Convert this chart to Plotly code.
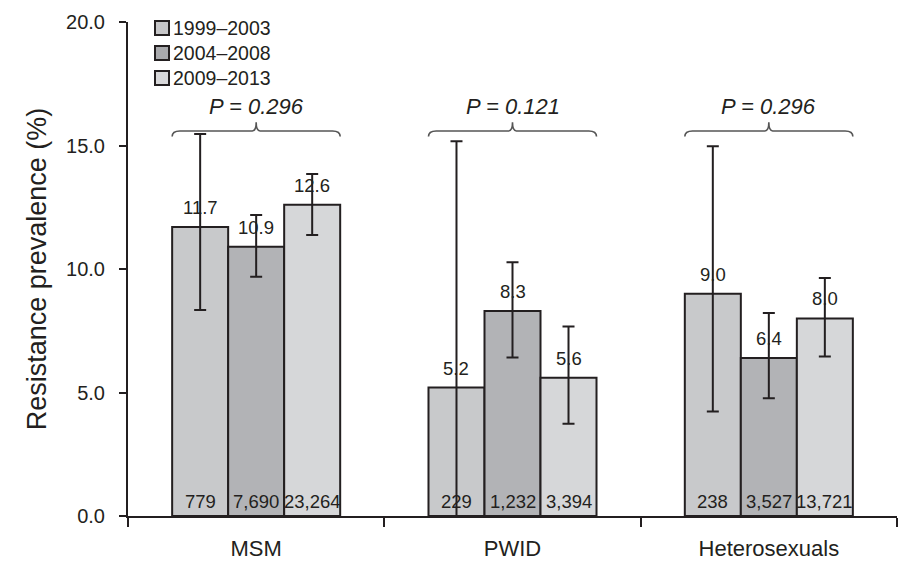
import plotly.graph_objects as go

# ---------------- data ----------------
groups = ["MSM", "PWID", "Heterosexuals"]
periods = ["1999\u20132003", "2004\u20132008", "2009\u20132013"]

prev_1999 = [11.7, 5.2, 9.0]
prev_2004 = [10.9, 8.3, 6.4]
prev_2009 = [12.6, 5.6, 8.0]

upper_1999 = [15.47, 15.17, 14.97]
upper_2004 = [12.19, 10.27, 8.22]
upper_2009 = [13.85, 7.67, 9.64]

lower_1999 = [8.34, 0.0, 4.23]
lower_2004 = [9.69, 6.42, 4.77]
lower_2009 = [11.38, 3.73, 6.46]

n_1999 = ["779", "229", "238"]
n_2004 = ["7,690", "1,232", "3,527"]
n_2009 = ["23,264", "3,394", "13,721"]

p_values = ["P = 0.296", "P = 0.121", "P = 0.296"]

y_ticks = [0, 5, 10, 15, 20]

# ---------------- styling ----------------
FONT = "Liberation Sans, Arial, Helvetica, sans-serif"
INK = "#231f20"
fills = ["#c8c9cb", "#b2b3b6", "#d6d7d9"]
legend_fills = ["#c6c6c8", "#a9aaad", "#d8d8da"]
bar_w = 0.2185

W, H = 901, 563
ML, MR, MT, MB = 128, 4, 22, 47
PW, PH = W - ML - MR, H - MT - MB


def px_x(px):
    return (px - ML) / PW


def px_y(py):
    return 1 - (py - MT) / PH


prev = [prev_1999, prev_2004, prev_2009]
upper = [upper_1999, upper_2004, upper_2009]
lower = [lower_1999, lower_2004, lower_2009]
counts = [n_1999, n_2004, n_2009]

fig = go.Figure()
annotations = []
shapes = []
for j in range(3):
    xs = [i + (j - 1) * bar_w for i in range(len(groups))]
    fig.add_trace(go.Bar(
        x=xs, y=prev[j], width=bar_w, name=periods[j], showlegend=False,
        marker=dict(color=fills[j], line=dict(color=INK, width=2)),
        error_y=dict(type="data", symmetric=False,
                     array=[u - v for u, v in zip(upper[j], prev[j])],
                     arrayminus=[v - l for v, l in zip(prev[j], lower[j])],
                     color=INK, thickness=2, width=6),
    ))
    for x, v, n in zip(xs, prev[j], counts[j]):
        annotations.append(dict(x=x, y=v, xref="x", yref="y", text=f"{v:.1f}",
                                showarrow=False, yanchor="bottom", yshift=7,
                                font=dict(family=FONT, size=18.5, color=INK)))
        annotations.append(dict(x=x, y=0, xref="x", yref="y", text=n,
                                showarrow=False, yanchor="bottom", yshift=2,
                                font=dict(family=FONT, size=18.5, color=INK)))

    # legend entry (box + label)
    cy = 28 + 25 * j
    shapes.append(dict(type="rect", xref="paper", yref="paper",
                       x0=px_x(155), x1=px_x(169), y0=px_y(cy + 7), y1=px_y(cy - 7),
                       fillcolor=legend_fills[j], line=dict(color=INK, width=2)))
    annotations.append(dict(x=px_x(171), y=px_y(cy), xref="paper", yref="paper",
                            text=periods[j], showarrow=False,
                            xanchor="left", yanchor="middle",
                            font=dict(family=FONT, size=19.5, color=INK)))

# braces and P-values
y_mid, y_end, y_peak = 15.59, 15.36, 15.94
for i, p in enumerate(p_values):
    xl = i - 1.5 * bar_w
    xr = i + 1.5 * bar_w
    r, rc = 0.03, 0.015
    path = (f"M {xl},{y_end} Q {xl},{y_mid} {xl + r},{y_mid} "
            f"L {i - rc},{y_mid} Q {i},{y_mid} {i},{y_peak} "
            f"Q {i},{y_mid} {i + rc},{y_mid} "
            f"L {xr - r},{y_mid} Q {xr},{y_mid} {xr},{y_end}")
    shapes.append(dict(type="path", path=path, xref="x", yref="y",
                       line=dict(color="#555555", width=1.6)))
    annotations.append(dict(x=i, y=y_peak, xref="x", yref="y",
                            text=f"<i>{p}</i>", showarrow=False,
                            yanchor="bottom", yshift=1,
                            font=dict(family=FONT, size=22, color=INK)))

fig.update_layout(
    width=W, height=H,
    margin=dict(l=ML, r=MR, t=MT, b=MB, autoexpand=False),
    paper_bgcolor="white", plot_bgcolor="white",
    barmode="overlay",
    showlegend=False,
    shapes=shapes,
    annotations=annotations,
    font=dict(family=FONT, color=INK),
)
fig.update_xaxes(
    range=[-0.5, 2.5], tickmode="array", tickvals=list(range(len(groups))),
    ticktext=groups, ticks="", showgrid=False, zeroline=False, automargin=False,
    showline=True, linecolor=INK, linewidth=2,
    tickfont=dict(family=FONT, size=22, color=INK), ticklabelstandoff=12,
    minor=dict(tickmode="array", tickvals=[-0.5, 0.5, 1.5, 2.5],
               ticks="outside", ticklen=9, tickwidth=2, tickcolor=INK,
               showgrid=False),
)
fig.update_yaxes(
    range=[0, 20], tickmode="array", tickvals=y_ticks,
    ticktext=[f"{t:.1f}" for t in y_ticks], automargin=False,
    ticks="outside", ticklen=7, tickwidth=2, tickcolor=INK,
    showgrid=False, zeroline=False, showline=True, linecolor=INK, linewidth=2,
    tickfont=dict(family=FONT, size=20, color=INK), ticklabelstandoff=10,
    title=dict(text="Resistance prevalence (%)", standoff=12,
               font=dict(family=FONT, size=27, color=INK)),
)

fig.write_html("out.html")
